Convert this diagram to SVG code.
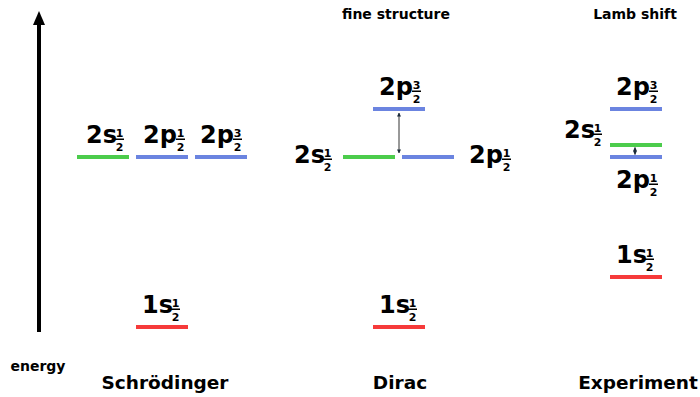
<svg xmlns="http://www.w3.org/2000/svg" width="700" height="397" viewBox="0 0 700 397">
<defs>
<style>
text{font-family:"DejaVu Sans",sans-serif;font-weight:bold;fill:#000}
.m{font-size:24px}
.f{font-size:11px;text-anchor:middle}
.h{font-size:18.5px;text-anchor:middle}
.t{font-size:14px;text-anchor:middle}
.s{stroke:#4ccc4c;stroke-width:4}
.p{stroke:#6b84e0;stroke-width:4}
.r{stroke:#f63a3a;stroke-width:4}
.a{stroke:#333;stroke-width:1;fill:none}
</style>
<marker id="ah" viewBox="0 0 10 10" refX="9" refY="5" markerWidth="4" markerHeight="4" orient="auto-start-reverse"><path d="M0,0 L10,5 L0,10 z" fill="#1a2a3a"/></marker>
<g id="half"><text class="f" x="4.5" y="-6">1</text><rect x="0" y="-4.5" width="9" height="1.5" fill="#000"/><text class="f" x="4.5" y="7.5">2</text></g>
<g id="thr"><text class="f" x="4.5" y="-6">3</text><rect x="0" y="-4.5" width="9" height="1.5" fill="#000"/><text class="f" x="4.5" y="7.5">2</text></g>
</defs>
<rect width="700" height="397" fill="#fff"/>
<g id="axis">
<line x1="39" y1="332" x2="39" y2="24" stroke="#000" stroke-width="4"/>
<path d="M33,25 L39,11 L45,25 z" fill="#000"/>
<text x="38" y="371" class="t">energy</text>
</g>
<g id="headings">
<text class="t" x="396" y="19">fine structure</text>
<text class="t" x="635" y="19">Lamb shift</text>
<text class="h" x="165" y="389">Schrödinger</text>
<text class="h" x="400" y="389">Dirac</text>
<text class="h" x="638" y="389">Experiment</text>
</g>
<g id="schrodinger">
<g id="s-2s"><line class="s" x1="77" y1="157" x2="129" y2="157"/><g transform="translate(86,143)"><text class="m">2s</text><use href="#half" x="29"/></g></g>
<g id="s-2p12"><line class="p" x1="136" y1="157" x2="188" y2="157"/><g transform="translate(143,143)"><text class="m">2p</text><use href="#half" x="33"/></g></g>
<g id="s-2p32"><line class="p" x1="195" y1="157" x2="247" y2="157"/><g transform="translate(200,143)"><text class="m">2p</text><use href="#thr" x="33"/></g></g>
<g id="s-1s"><line class="r" x1="136" y1="327" x2="188" y2="327"/><g transform="translate(142,313)"><text class="m">1s</text><use href="#half" x="29"/></g></g>
</g>
<g id="dirac">
<g id="d-2p32"><line class="p" x1="373" y1="109" x2="425" y2="109"/><g transform="translate(379,95)"><text class="m">2p</text><use href="#thr" x="33"/></g></g>
<g id="d-2s"><line class="s" x1="343" y1="157" x2="395" y2="157"/><g transform="translate(294,163)"><text class="m">2s</text><use href="#half" x="29"/></g></g>
<g id="d-2p12"><line class="p" x1="402" y1="157" x2="454" y2="157"/><g transform="translate(469,163)"><text class="m">2p</text><use href="#half" x="33"/></g></g>
<g id="d-1s"><line class="r" x1="373" y1="327" x2="425" y2="327"/><g transform="translate(379,313)"><text class="m">1s</text><use href="#half" x="29"/></g></g>
</g>
<g id="experiment">
<g id="e-2p32"><line class="p" x1="610" y1="109" x2="662" y2="109"/><g transform="translate(616,95)"><text class="m">2p</text><use href="#thr" x="33"/></g></g>
<g id="e-2s"><line class="s" x1="610" y1="145" x2="662" y2="145"/><g transform="translate(564,138)"><text class="m">2s</text><use href="#half" x="29"/></g></g>
<g id="e-2p12"><line class="p" x1="610" y1="157" x2="662" y2="157"/><g transform="translate(616,188)"><text class="m">2p</text><use href="#half" x="33"/></g></g>
<g id="e-1s"><line class="r" x1="610" y1="277" x2="662" y2="277"/><g transform="translate(616,263)"><text class="m">1s</text><use href="#half" x="29"/></g></g>
</g>
<g id="connectors">
<line class="a" x1="399" y1="113" x2="399" y2="153" marker-start="url(#ah)" marker-end="url(#ah)"/>
<line class="a" x1="635" y1="147.5" x2="635" y2="154.5" marker-start="url(#ah)" marker-end="url(#ah)"/>
</g>
</svg>
